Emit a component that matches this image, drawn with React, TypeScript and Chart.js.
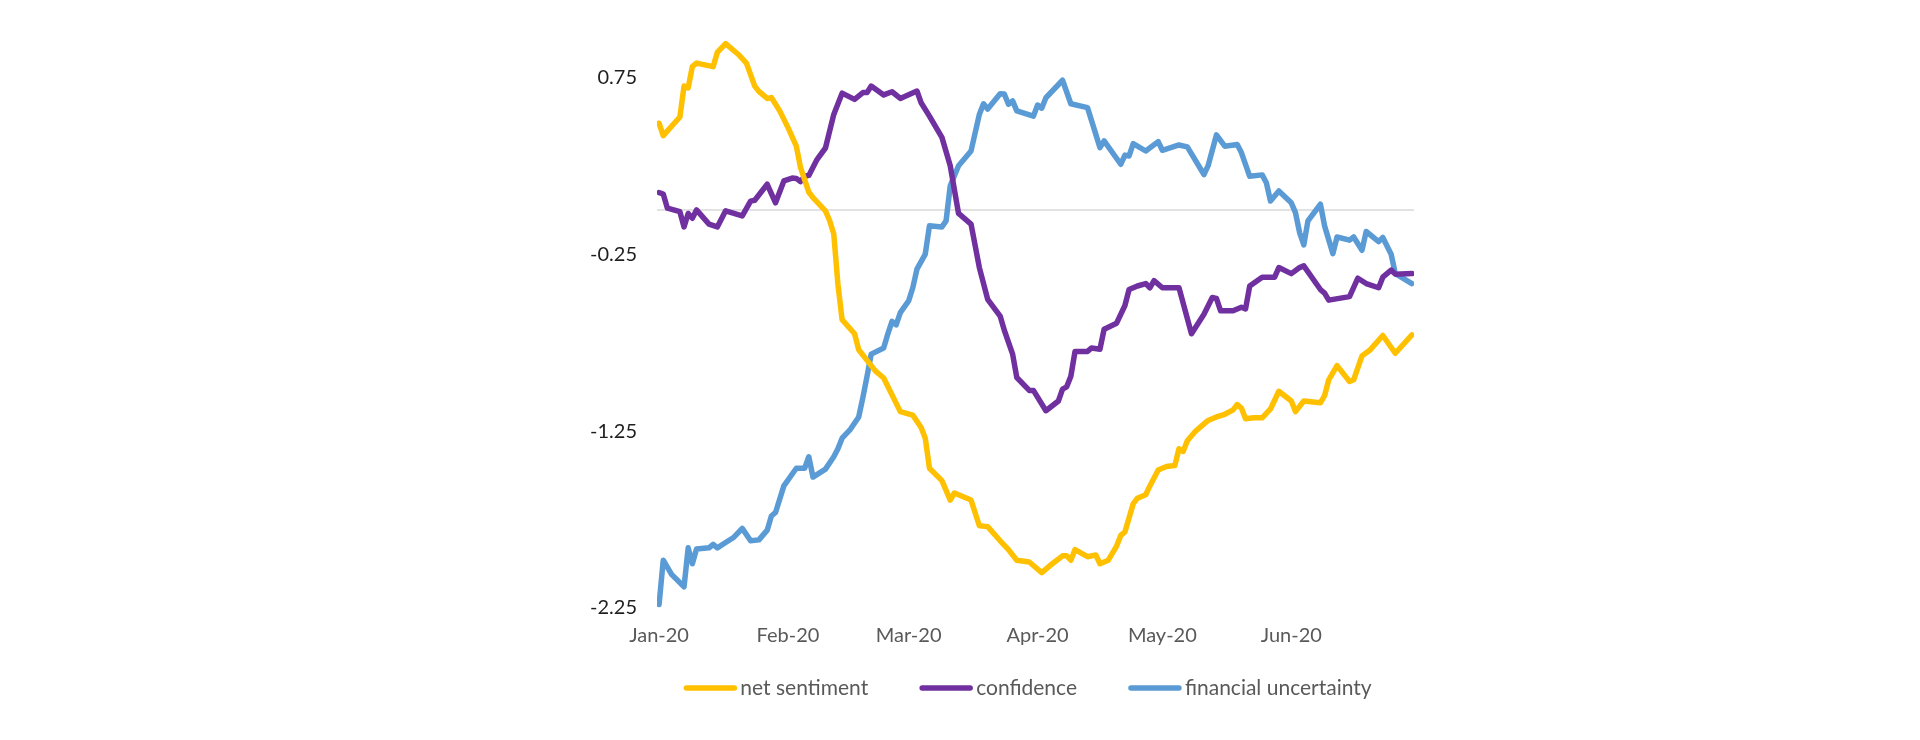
import { useEffect, useRef } from 'react'
import { Chart, registerables } from 'chart.js'

Chart.register(...registerables)

// day index counted from 1 Jan 2020
const monthStarts = [0, 31, 60, 91, 121, 152]
const monthLabels = ['Jan-20', 'Feb-20', 'Mar-20', 'Apr-20', 'May-20', 'Jun-20']
const yTicks = [-2.25, -1.25, -0.25, 0.75]

const sentimentDays = [0, 1, 5, 6, 7, 8, 9, 13, 14, 16, 19, 21, 23, 24, 26, 27, 29, 31, 33, 34, 36, 37, 40, 41, 42, 43, 44, 47, 48, 51, 52, 54, 58, 61, 63, 64, 65, 68, 70, 71, 75, 77, 79, 82, 84, 86, 89, 92, 94, 97, 98, 99, 100, 103, 105, 106, 108, 110, 111, 112, 114, 115, 117, 118, 120, 122, 124, 125, 126, 127, 129, 132, 134, 136, 138, 139, 140, 141, 143, 145, 147, 149, 152, 153, 155, 159, 160, 161, 163, 166, 167, 169, 171, 174, 177, 181]
const sentimentValues = [0.49, 0.42, 0.525, 0.7, 0.69, 0.81, 0.83, 0.81, 0.89, 0.94, 0.88, 0.83, 0.7, 0.67, 0.63, 0.635, 0.56, 0.465, 0.36, 0.24, 0.1, 0.07, -0.005, -0.06, -0.136, -0.42, -0.62, -0.7, -0.79, -0.88, -0.91, -0.95, -1.14, -1.16, -1.23, -1.29, -1.46, -1.53, -1.64, -1.6, -1.64, -1.785, -1.79, -1.87, -1.92, -1.98, -1.99, -2.05, -2.01, -1.955, -1.955, -1.98, -1.92, -1.96, -1.95, -2.0, -1.98, -1.9, -1.84, -1.82, -1.66, -1.63, -1.61, -1.56, -1.47, -1.45, -1.445, -1.35, -1.365, -1.305, -1.25, -1.19, -1.17, -1.155, -1.13, -1.1, -1.12, -1.18, -1.175, -1.175, -1.125, -1.025, -1.08, -1.14, -1.08, -1.09, -1.05, -0.96, -0.88, -0.97, -0.96, -0.825, -0.79, -0.71, -0.81, -0.706]

const confidenceDays = [0, 1, 2, 5, 6, 7, 8, 9, 12, 14, 16, 20, 22, 23, 26, 28, 30, 32, 33, 34, 35, 36, 38, 40, 42, 44, 47, 49, 50, 51, 54, 56, 58, 62, 63, 65, 68, 70, 72, 75, 77, 79, 82, 83, 85, 86, 89, 90, 93, 96, 97, 98, 99, 100, 103, 104, 106, 107, 110, 112, 113, 115, 117, 118, 119, 121, 125, 128, 131, 133, 134, 135, 138, 140, 141, 142, 145, 148, 149, 152, 154, 155, 159, 160, 161, 166, 168, 170, 173, 174, 176, 177, 181]
const confidenceValues = [0.098, 0.09, 0.01, -0.01, -0.096, -0.02, -0.047, 0.0, -0.08, -0.096, -0.005, -0.034, 0.05, 0.055, 0.145, 0.04, 0.164, 0.18, 0.178, 0.16, 0.19, 0.195, 0.286, 0.35, 0.54, 0.66, 0.625, 0.663, 0.663, 0.7, 0.65, 0.668, 0.63, 0.672, 0.606, 0.53, 0.41, 0.25, -0.02, -0.08, -0.326, -0.505, -0.6, -0.68, -0.815, -0.947, -1.02, -1.02, -1.135, -1.08, -1.013, -1.0, -0.94, -0.8, -0.8, -0.78, -0.787, -0.674, -0.64, -0.54, -0.45, -0.43, -0.416, -0.44, -0.4, -0.44, -0.44, -0.7, -0.59, -0.495, -0.5, -0.57, -0.57, -0.55, -0.56, -0.43, -0.38, -0.38, -0.326, -0.36, -0.326, -0.316, -0.45, -0.47, -0.51, -0.49, -0.386, -0.416, -0.44, -0.38, -0.34, -0.363, -0.36]

const uncertaintyDays = [0, 1, 3, 6, 7, 8, 9, 12, 13, 14, 16, 18, 20, 22, 24, 26, 27, 28, 30, 33, 35, 36, 37, 40, 42, 43, 44, 46, 48, 49, 50, 51, 54, 55, 56, 57, 58, 60, 61, 62, 64, 65, 68, 69, 70, 72, 75, 77, 78, 79, 82, 83, 84, 85, 86, 90, 91, 92, 93, 97, 99, 103, 106, 107, 111, 112, 113, 114, 117, 120, 121, 125, 127, 131, 132, 134, 136, 139, 140, 142, 145, 146, 147, 149, 152, 153, 154, 155, 156, 159, 160, 162, 163, 166, 167, 169, 170, 173, 174, 176, 177, 181]
const uncertaintyValues = [-2.23, -1.98, -2.06, -2.13, -1.91, -2.0, -1.917, -1.91, -1.89, -1.91, -1.88, -1.85, -1.8, -1.87, -1.865, -1.81, -1.73, -1.71, -1.56, -1.46, -1.46, -1.395, -1.51, -1.465, -1.395, -1.35, -1.29, -1.24, -1.17, -1.06, -0.94, -0.815, -0.78, -0.7, -0.63, -0.65, -0.58, -0.514, -0.44, -0.335, -0.25, -0.09, -0.096, -0.062, 0.136, 0.25, 0.333, 0.54, 0.6, 0.57, 0.657, 0.655, 0.597, 0.616, 0.56, 0.53, 0.593, 0.575, 0.634, 0.733, 0.6, 0.578, 0.352, 0.39, 0.258, 0.31, 0.305, 0.375, 0.333, 0.386, 0.337, 0.367, 0.356, 0.2, 0.25, 0.424, 0.36, 0.37, 0.324, 0.19, 0.198, 0.154, 0.05, 0.107, 0.04, -0.015, -0.128, -0.198, -0.062, 0.032, -0.09, -0.247, -0.153, -0.171, -0.153, -0.228, -0.122, -0.179, -0.156, -0.25, -0.36, -0.416]

const FONT = 'Lato, "Noto Sans", sans-serif'

const toPoints = (days: number[], values: number[]) =>
  days.map((d, i) => ({ x: d, y: values[i] }))

// grey line at zero (Excel's horizontal axis line)
const zeroLine = {
  id: 'zeroLine',
  beforeDatasetsDraw(chart: any) {
    const { ctx, chartArea, scales } = chart
    const y = scales.y.getPixelForValue(0)
    ctx.save()
    ctx.strokeStyle = '#d9d9d9'
    ctx.lineWidth = 1.5
    ctx.beginPath()
    ctx.moveTo(chartArea.left, y)
    ctx.lineTo(chartArea.right, y)
    ctx.stroke()
    ctx.restore()
  },
}

// legend drawn below, line swatch then label
const lineLegend = {
  id: 'lineLegend',
  afterDraw(chart: any) {
    const { ctx } = chart
    const swatch = 52
    const gap = 4
    const spacing = 52
    const y = 688
    ctx.save()
    ctx.font = `21px ${FONT}`
    const items = chart.data.datasets.map((ds: any) => ({
      label: ds.label,
      color: ds.borderColor,
      w: ctx.measureText(ds.label).width,
    }))
    const total = items.reduce((s: number, it: any) => s + swatch + gap + it.w, 0) + spacing * (items.length - 1)
    let x = 1028 - total / 2
    ctx.textBaseline = 'middle'
    ctx.lineCap = 'round'
    items.forEach((it: any) => {
      ctx.strokeStyle = it.color
      ctx.lineWidth = 5.5
      ctx.beginPath()
      ctx.moveTo(x + 2, y)
      ctx.lineTo(x + swatch - 2, y)
      ctx.stroke()
      ctx.fillStyle = '#595959'
      ctx.fillText(it.label, x + swatch + gap, y)
      x += swatch + gap + it.w + spacing
    })
    ctx.restore()
  },
}

export default function App() {
  const canvasRef = useRef<HTMLCanvasElement>(null)
  const chartRef = useRef<Chart | null>(null)

  useEffect(() => {
    if (!canvasRef.current) return
    if (chartRef.current) chartRef.current.destroy()

    const lineStyle = {
      borderWidth: 5.5,
      pointRadius: 0,
      tension: 0,
      borderJoinStyle: 'round' as const,
      borderCapStyle: 'round' as const,
      fill: false,
    }

    chartRef.current = new Chart(canvasRef.current, {
      type: 'line',
      data: {
        datasets: [
          { label: 'net sentiment', data: toPoints(sentimentDays, sentimentValues), borderColor: '#FFC000', ...lineStyle },
          { label: 'confidence', data: toPoints(confidenceDays, confidenceValues), borderColor: '#7030A0', ...lineStyle },
          { label: 'financial uncertainty', data: toPoints(uncertaintyDays, uncertaintyValues), borderColor: '#5B9BD5', ...lineStyle },
        ],
      },
      options: {
        responsive: false,
        animation: false,
        layout: { padding: { left: 557, right: 506, top: 33, bottom: 92 } },
        plugins: { legend: { display: false }, tooltip: { enabled: false } },
        scales: {
          x: {
            type: 'linear',
            min: -0.5,
            max: 181.5,
            afterBuildTicks: (scale: any) => {
              scale.ticks = monthStarts.map((v) => ({ value: v }))
            },
            afterFit: (scale: any) => {
              scale.height = 40
            },
            grid: { display: false, drawTicks: false },
            border: { display: false },
            ticks: {
              autoSkip: false,
              maxRotation: 0,
              padding: 16,
              color: '#595959',
              font: { family: FONT, size: 20 },
              callback: (value: any) => monthLabels[monthStarts.indexOf(value)] ?? '',
            },
          },
          y: {
            min: -2.25,
            max: 1.0,
            afterBuildTicks: (scale: any) => {
              scale.ticks = yTicks.map((v) => ({ value: v }))
            },
            afterFit: (scale: any) => {
              scale.width = 100
            },
            grid: { display: false, drawTicks: false },
            border: { display: false },
            ticks: {
              padding: 20,
              color: '#1f1f1f',
              font: { family: FONT, size: 20 },
              callback: (value: any) => Number(value).toFixed(2),
            },
          },
        },
      },
      plugins: [zeroLine, lineLegend],
    })

    return () => {
      if (chartRef.current) {
        chartRef.current.destroy()
        chartRef.current = null
      }
    }
  }, [])

  return (
    <div style={{ position: 'absolute', left: 0, top: 0, width: 1920, height: 740, background: '#fff' }}>
      <canvas ref={canvasRef} width={1920} height={740} />
    </div>
  )
}
